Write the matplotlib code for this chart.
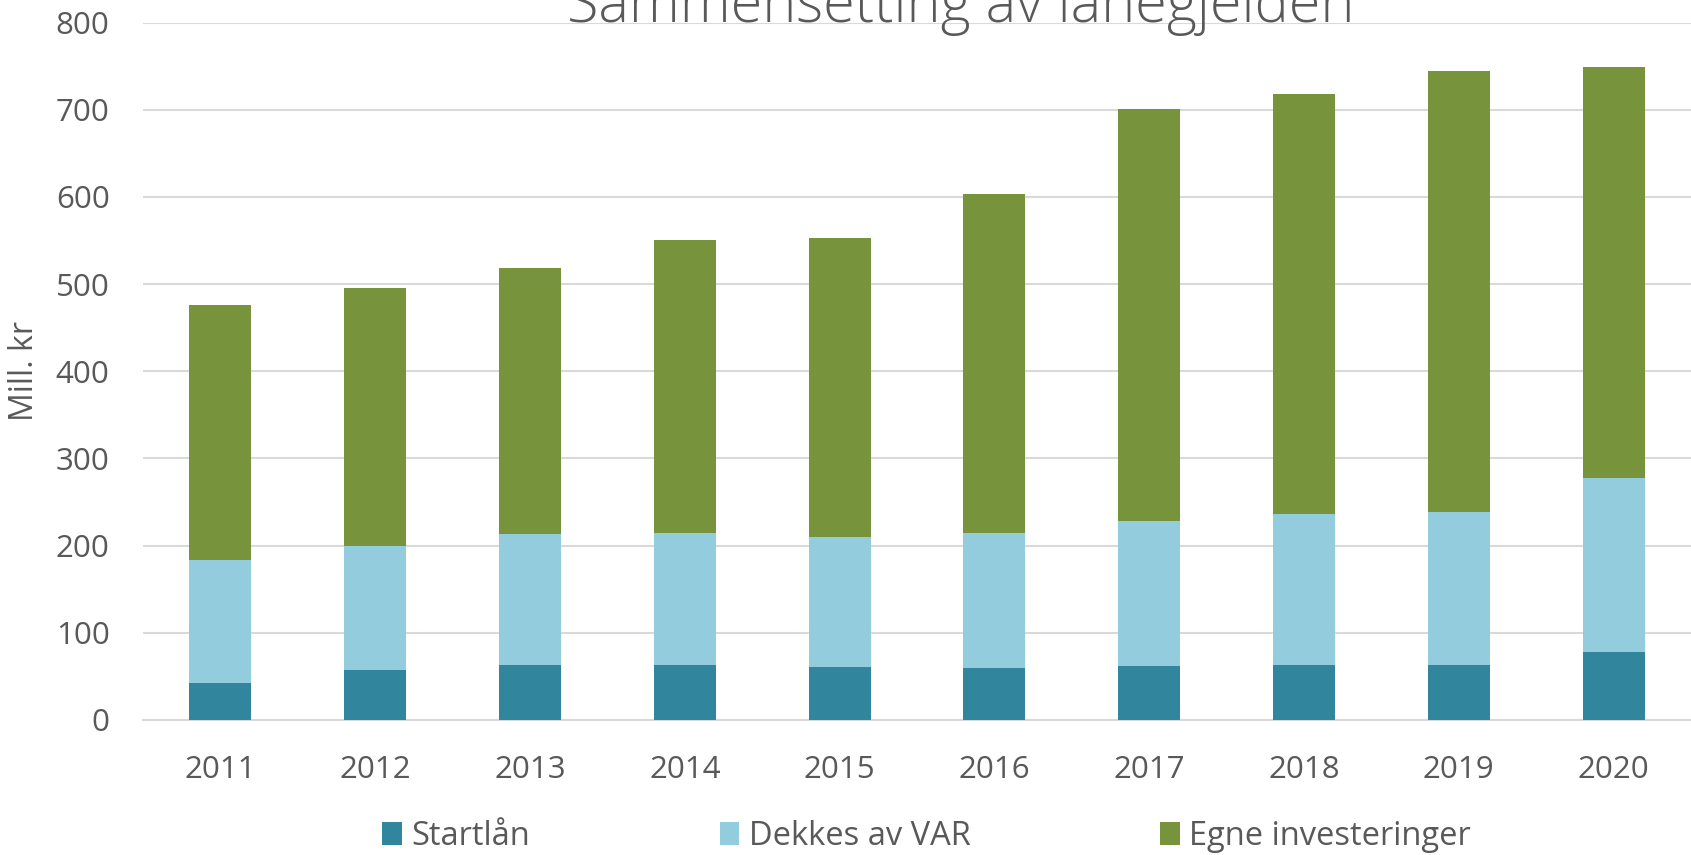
import numpy as np
import matplotlib
matplotlib.use("Agg")
import matplotlib.pyplot as plt

# Sammensetting av lånegjelden (mill. kr)
years = ["2011", "2012", "2013", "2014", "2015", "2016", "2017", "2018", "2019", "2020"]
startlan = [42, 57, 63, 63, 61, 59, 62, 63, 63, 78]
dekkes_var = [142, 142, 150, 151, 149, 156, 166, 173, 176, 199]
egne_inv = [292, 296, 306, 336, 343, 388, 473, 482, 505, 472]

series_names = ["Startlån", "Dekkes av VAR", "Egne investeringer"]
colors = ["#31859C", "#93CDDD", "#77933C"]
text_col = "#595959"

plt.rcParams["font.family"] = ["Open Sans", "DejaVu Sans"]

fig = plt.figure(figsize=(16.91, 8.55), dpi=100)
ax = fig.add_axes([0.0846, 0.158, 0.9154, 0.8156])

x = np.arange(len(years))
bottom = np.zeros(len(years))
for vals, name, col in zip([startlan, dekkes_var, egne_inv], series_names, colors):
    ax.bar(x, vals, width=0.4, bottom=bottom, color=col, label=name, zorder=3)
    bottom += np.array(vals)

ax.set_xlim(-0.5, len(years) - 0.5)
ax.set_ylim(0, 800)
ax.set_yticks(range(0, 801, 100))
ax.set_xticks(x)
ax.set_xticklabels(years)
ax.grid(axis="y", color="#D9D9D9", linewidth=1.5, zorder=0)
ax.set_axisbelow(True)
for s in ["top", "right", "left"]:
    ax.spines[s].set_visible(False)
ax.spines["bottom"].set_color("#D9D9D9")
ax.spines["bottom"].set_linewidth(1.5)
ax.tick_params(axis="both", length=0, labelsize=22.5, colors=text_col)
ax.tick_params(axis="y", pad=24)
ax.tick_params(axis="x", pad=25)
ax.set_ylabel("Mill. kr", fontsize=23, color=text_col)
ax.yaxis.set_label_coords(-0.066, 0.5)

fig.text(0.568, 0.974, "Sammensetting av lånegjelden", ha="center", va="baseline",
         fontsize=41.5, color=text_col, fontweight="light")

leg = fig.legend(loc="center", bbox_to_anchor=(0.548, 0.022), ncol=3, frameon=False,
                 fontsize=23.5, handlelength=0.6, handleheight=0.7, handletextpad=0.3,
                 columnspacing=5.8, labelcolor=text_col)

fig.savefig("out.png", dpi=100)
